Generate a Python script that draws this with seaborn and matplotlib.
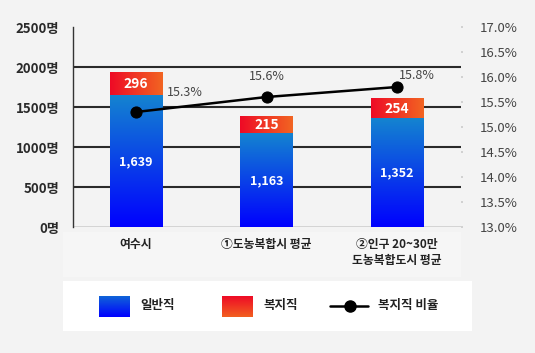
import numpy as np
import pandas as pd
import matplotlib
matplotlib.use("Agg")
import matplotlib.pyplot as plt
import seaborn as sns
from matplotlib.colors import LinearSegmentedColormap
from matplotlib.patches import Rectangle
from matplotlib.lines import Line2D

# ---- data ----
categories = ["여수시", "①도농복합시 평균", "②인구 20~30만\n도농복합도시 평균"]
general = [1639, 1163, 1352]
welfare = [296, 215, 254]
ratio = [15.3, 15.6, 15.8]
left_ticks = [0, 500, 1000, 1500, 2000, 2500]
left_labels = [f"{v}명" for v in left_ticks]
right_ticks = [13.0, 13.5, 14.0, 14.5, 15.0, 15.5, 16.0, 16.5, 17.0]
right_labels = [f"{v:.1f}%" for v in right_ticks]
legend_labels = ["일반직", "복지직", "복지직 비율"]

sns.set_theme(style="white")
plt.rcParams['font.family'] = ['Noto Sans CJK KR', 'DejaVu Sans']

BG = "#f3f3f3"
W, H = 535, 353
fig = plt.figure(figsize=(W / 100, H / 100), dpi=100, facecolor=BG)

# background overlay axes in pixel coords
lax = fig.add_axes([0, 0, 1, 1])
lax.set_zorder(-1)
lax.axis('off')


def grad(a, x0, x1, yb, yt, c0, c1, vertical=True, z=3):
    cmap = LinearSegmentedColormap.from_list("g", [c0, c1])
    n = 256
    arr = np.linspace(0, 1, n).reshape(-1, 1) if vertical else np.linspace(0, 1, n).reshape(1, -1)
    a.imshow(arr, cmap=cmap, extent=(x0, x1, yb, yt), origin='upper',
             aspect='auto', zorder=z, interpolation='bilinear')


ax = fig.add_axes([73 / W, 1 - 227 / H, (461 - 73) / W, 200 / H])
ax.set_facecolor(BG)

df = pd.DataFrame({"cat": categories, "general": general, "welfare": welfare})
df["total"] = df["general"] + df["welfare"]

sns.barplot(data=df, x="cat", y="total", color="#f03a22", width=0.4, ax=ax,
            saturation=1, zorder=2, edgecolor="none")
sns.barplot(data=df, x="cat", y="general", color="#0a50f0", width=0.4, ax=ax,
            saturation=1, zorder=3, edgecolor="none")

patches = ax.patches
n = len(categories)
for i in range(n):
    pr = patches[i]
    x0 = pr.get_x(); x1 = x0 + pr.get_width()
    # red segment: horizontal gradient
    grad(ax, x0, x1, general[i], general[i] + welfare[i], "#ee0a26", "#f26522", vertical=False, z=4)
    # blue segment: vertical gradient
    grad(ax, x0, x1, 0, general[i], "#1484d0", "#0000ff", vertical=True, z=4)

ax.set_xlim(-0.483, 2.49)
ax.set_ylim(0, 2500)

for v in left_ticks[:-1]:
    ax.axhline(v, color="#2a2a2a" if v > 0 else "#555555", lw=1.5 if v > 0 else 1.0, zorder=1)

for s in ["top", "right", "bottom"]:
    ax.spines[s].set_visible(False)
ax.spines["left"].set_color("#333333")
ax.spines["left"].set_linewidth(1.0)

ax.set_yticks(left_ticks)
ax.set_yticklabels(left_labels, fontsize=9.5, fontweight='bold', color="#2a2a2a")
ax.tick_params(axis='y', length=0, pad=10)
ax.set_xticks(range(n))
ax.set_xticklabels(categories, fontsize=8.5, fontweight='bold', color="#222222", linespacing=1.3)
ax.tick_params(axis='x', length=0, pad=8)
ax.set_xlabel("")
ax.set_ylabel("")

# value labels
for i in range(n):
    ax.text(i, general[i] + welfare[i] / 2, f"{welfare[i]:,}", ha='center', va='center',
            color='white', fontsize=10, fontweight='bold', zorder=6)
    ax.text(i, general[i] / 2, f"{general[i]:,}", ha='center', va='center',
            color='white', fontsize=9, fontweight='bold', zorder=6)

# ratio line
ax2 = ax.twinx()
sns.lineplot(x=list(range(n)), y=ratio, ax=ax2, color='black', marker='o',
             markersize=8, lw=1.8, zorder=5, markeredgecolor='black')
ax2.set_ylim(13, 17)
ax2.set_xlim(-0.483, 2.49)
ax2.set_yticks(right_ticks)
ax2.set_yticklabels(right_labels, fontsize=9.5, color="#444444")
ax2.tick_params(axis='y', length=1.5, color="#cccccc", pad=12)
for s in ax2.spines.values():
    s.set_visible(False)
ax2.set_ylabel("")

offsets = [(35, 14), (0, 15), (14, 8)]
for i in range(n):
    ax2.annotate(f"{ratio[i]:.1f}%", (i, ratio[i]), xytext=offsets[i], textcoords='offset points',
                 ha='center', va='center', fontsize=9, color="#444444")

# background regions & legend (pixel coords)
lax.set_xlim(0, W)
lax.set_ylim(H, 0)
lax.add_patch(Rectangle((63, 232), 461 - 63, 45, facecolor="#f6f6f6", edgecolor="none"))
lax.add_patch(Rectangle((63, 281), 472 - 63, 50, facecolor="white", edgecolor="none"))

grad(lax, 99, 130, 317, 296, "#1064d8", "#0000ff", vertical=True, z=3)
grad(lax, 222, 253, 317, 296, "#ee0a26", "#f26020", vertical=True, z=3)
lax.add_line(Line2D([330, 368], [306, 306], color='black', lw=1.8, zorder=3))
lax.plot([350], [306], 'o', color='black', markersize=8, zorder=4)
lax.set_xlim(0, W)
lax.set_ylim(H, 0)

for x, t in zip([140, 263, 378], legend_labels):
    lax.text(x, 306, t, ha='left', va='center', fontsize=9, fontweight='bold', color="#222222")

fig.savefig("out.png", dpi=100, facecolor=BG)
